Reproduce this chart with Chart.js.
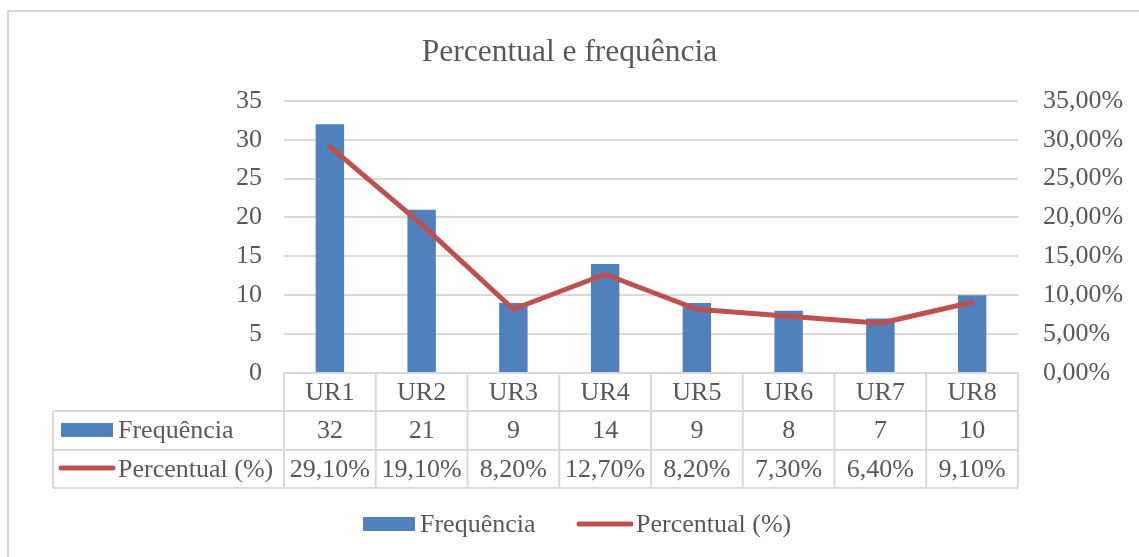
<!DOCTYPE html>
<html>
<head>
<meta charset="utf-8">
<script src="https://cdn.jsdelivr.net/npm/chart.js@4/dist/chart.umd.min.js"></script>
<style>
  html, body { margin: 0; padding: 0; background: #fff; }
  #wrap { width: 1139px; height: 557px; position: relative; }
</style>
</head>
<body>
<div id="wrap"><canvas id="chart"></canvas></div>
<script>
"use strict";
const $ = id => document.getElementById(id);

const categories = ["UR1", "UR2", "UR3", "UR4", "UR5", "UR6", "UR7", "UR8"];
const frequencia = [32, 21, 9, 14, 9, 8, 7, 10];
const percentual = [29.1, 19.1, 8.2, 12.7, 8.2, 7.3, 6.4, 9.1];
const leftTicks = [0, 5, 10, 15, 20, 25, 30, 35];
const seriesNames = ["Frequência", "Percentual (%)"];

const FONT = '"Liberation Serif", "Times New Roman", serif';
const TXT = "#595959";
const GRID = "#d9d9d9";
const BLUE = "#4f81bd";
const RED = "#c0504d";

const pct = v => v.toFixed(2).replace(".", ",") + "%";

/* ---------- data table + legend (Excel style) ---------- */
const tablePlugin = {
  id: "dataTable",
  afterDraw(chart) {
    const { ctx, chartArea: a } = chart;
    const xs = chart.scales.x;
    const colW = xs.width / categories.length;
    const y0 = a.bottom, y1 = y0 + 38, y2 = y1 + 39, y3 = y2 + 38;
    const tableLeft = 53;

    ctx.save();
    // outer frame (left + top only visible)
    ctx.fillStyle = GRID;
    ctx.fillRect(7, 10, 1132, 2);
    ctx.fillRect(7, 10, 2, 547);

    // table grid
    ctx.strokeStyle = GRID;
    ctx.lineWidth = 2;
    ctx.beginPath();
    for (let i = 0; i <= categories.length; i++) {
      const x = xs.left + i * colW;
      ctx.moveTo(x, y0); ctx.lineTo(x, y3);
    }
    [y1, y2, y3].forEach(y => { ctx.moveTo(tableLeft, y); ctx.lineTo(xs.right, y); });
    ctx.moveTo(tableLeft, y1); ctx.lineTo(tableLeft, y3);
    ctx.stroke();

    // values
    ctx.font = "26px " + FONT;
    ctx.fillStyle = TXT;
    ctx.textAlign = "center";
    ctx.textBaseline = "middle";
    categories.forEach((c, i) => {
      const x = xs.getPixelForValue(i);
      ctx.fillText(String(frequencia[i]), x, (y1 + y2) / 2 + 1);
      ctx.fillText(pct(percentual[i]), x, (y2 + y3) / 2 + 1);
    });

    // row headers with legend keys
    ctx.textAlign = "left";
    ctx.fillStyle = BLUE;
    ctx.fillRect(61, y1 + 12, 52, 14);
    ctx.strokeStyle = RED;
    ctx.lineWidth = 5;
    ctx.lineCap = "round";
    ctx.beginPath(); ctx.moveTo(61, y2 + 18); ctx.lineTo(113, y2 + 18); ctx.stroke();
    ctx.fillStyle = TXT;
    ctx.fillText(seriesNames[0], 118, (y1 + y2) / 2 + 1);
    ctx.fillText(seriesNames[1], 118, (y2 + y3) / 2 + 1);

    // bottom legend
    const ly = 524;
    ctx.fillStyle = BLUE;
    ctx.fillRect(363, ly - 7, 52, 14);
    ctx.beginPath(); ctx.moveTo(579, ly); ctx.lineTo(631, ly); ctx.stroke();
    ctx.fillStyle = TXT;
    ctx.fillText(seriesNames[0], 420, ly + 1);
    ctx.fillText(seriesNames[1], 636, ly + 1);
    ctx.restore();
  }
};

new Chart($("chart"), {
  data: {
    labels: categories,
    datasets: [
      { type: "line", label: seriesNames[1], data: percentual, yAxisID: "y1", order: 0,
        borderColor: RED, backgroundColor: RED, borderWidth: 5, pointRadius: 0,
        tension: 0, borderCapStyle: "round", borderJoinStyle: "round" },
      { type: "bar", label: seriesNames[0], data: frequencia, yAxisID: "y", order: 1,
        backgroundColor: BLUE, barPercentage: 0.31, categoryPercentage: 1 }
    ]
  },
  options: {
    responsive: true, maintainAspectRatio: false, animation: false,
    layout: { padding: { left: 0, right: 0, top: 0, bottom: 0 } },
    plugins: {
      legend: { display: false },
      tooltip: { enabled: false },
      title: { display: true, text: "Percentual e frequência", color: TXT,
        font: { family: FONT, size: 31.5, weight: "normal" }, padding: { top: 34, bottom: 29 } }
    },
    scales: {
      x: {
        grid: { display: false, drawTicks: false },
        border: { display: true, color: GRID, width: 2 },
        ticks: { color: TXT, font: { family: FONT, size: 26 }, padding: 5 },
        afterFit: s => { s.height = 184; }
      },
      y: {
        position: "left", min: 0, max: 35,
        afterBuildTicks: s => { s.ticks = leftTicks.map(v => ({ value: v })); },
        grid: { color: GRID, lineWidth: 2, drawTicks: false },
        border: { display: false },
        ticks: { color: TXT, font: { family: FONT, size: 26 }, padding: 22 },
        afterFit: s => { s.width = 284; }
      },
      y1: {
        position: "right", min: 0, max: 35,
        afterBuildTicks: s => { s.ticks = leftTicks.map(v => ({ value: v })); },
        grid: { display: false, drawTicks: false },
        border: { display: false },
        ticks: { color: TXT, font: { family: FONT, size: 26 }, padding: 25, callback: v => pct(v) },
        afterFit: s => { s.width = 121; }
      }
    }
  },
  plugins: [tablePlugin]
});
</script>
</body>
</html>
